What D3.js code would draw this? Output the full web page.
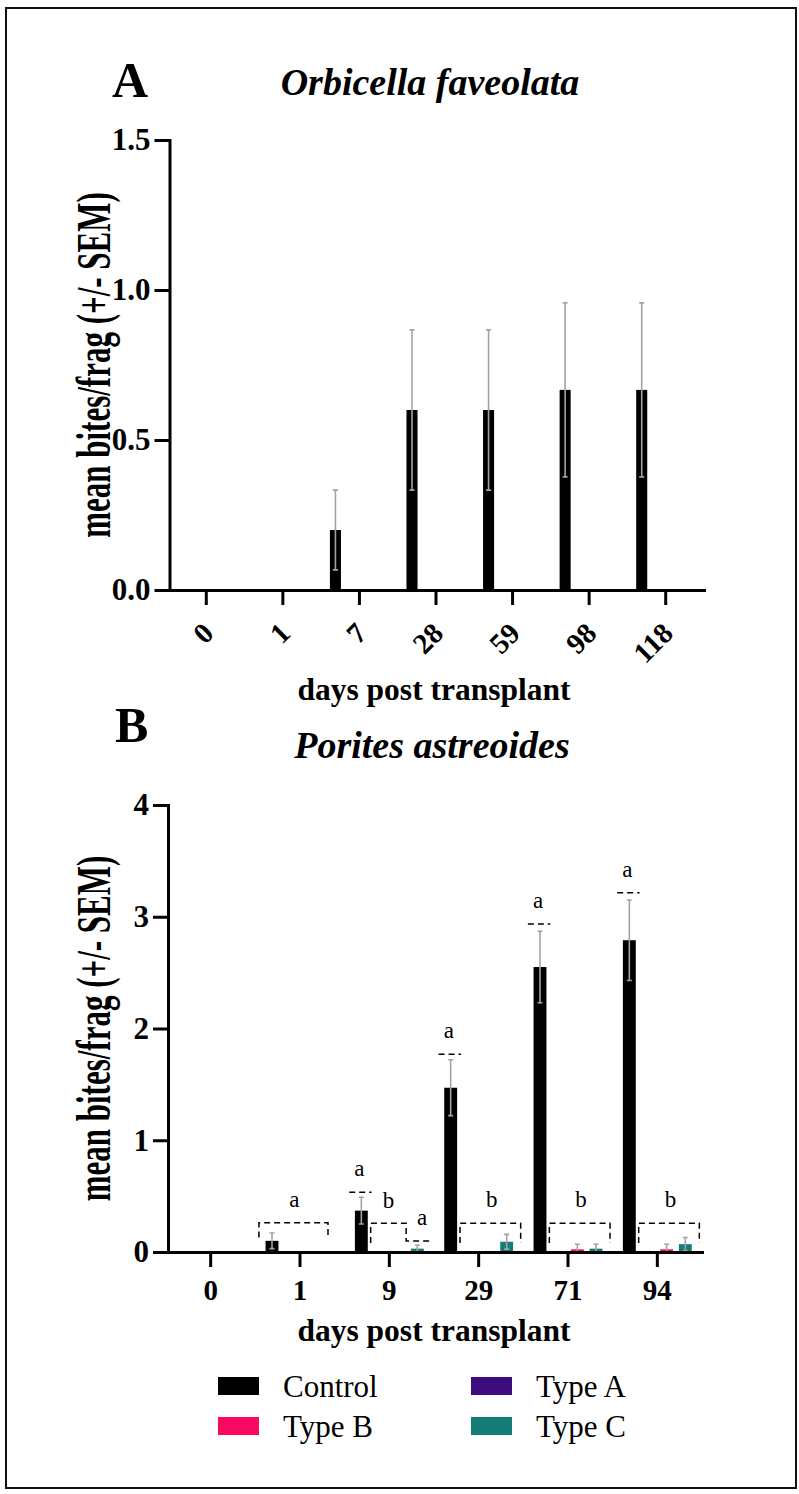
<!DOCTYPE html>
<html><head><meta charset="utf-8">
<script src="https://cdn.jsdelivr.net/npm/d3@7"></script>
<style>body{margin:0;background:#fff} svg{display:block}</style>
</head><body>
<svg id="chart" width="799" height="1494"></svg>
<script>
// ---------- data ----------
const seriesNames = ["Control", "Type A", "Type B", "Type C"];

// Panel A: Orbicella faveolata
const daysA = ["0", "1", "7", "28", "59", "98", "118"];
const controlA = [0, 0, 0.2, 0.6, 0.6, 0.667, 0.667];
const controlSemA = [0, 0, 0.133, 0.267, 0.267, 0.29, 0.29];
const typeA_A = [0, 0, 0, 0, 0, 0, 0];
const typeB_A = [0, 0, 0, 0, 0, 0, 0];
const typeC_A = [0, 0, 0, 0, 0, 0, 0];
const zeroSemA = [0, 0, 0, 0, 0, 0, 0];
const yTicksA = [0, 0.5, 1.0, 1.5];

// Panel B: Porites astreoides
const daysB = ["0", "1", "9", "29", "71", "94"];
const controlB = [0, 0.1, 0.37, 1.47, 2.55, 2.79];
const controlSemB = [0, 0.07, 0.12, 0.25, 0.32, 0.36];
const typeA_B = [0, 0, 0, 0, 0, 0];
const typeASemB = [0, 0, 0, 0, 0, 0];
const typeB_B = [0, 0, 0, 0, 0.024, 0.024];
const typeBSemB = [0, 0, 0, 0, 0.045, 0.045];
const typeC_B = [0, 0, 0.03, 0.092, 0.03, 0.07];
const typeCSemB = [0, 0, 0.03, 0.066, 0.04, 0.06];
const yTicksB = [0, 1, 2, 3, 4];

// significance letters (panel B)
const controlLettersB = [
  { day: "9", letter: "a", dash: 0.534, text: 0.68 },
  { day: "29", letter: "a", dash: 1.77, text: 1.915 },
  { day: "71", letter: "a", dash: 2.935, text: 3.08 },
  { day: "94", letter: "a", dash: 3.215, text: 3.356 }
];
const groupLettersB = [
  { day: "29", letter: "b" },
  { day: "71", letter: "b" },
  { day: "94", letter: "b" }
];

const colors = { "Control": "#000000", "Type A": "#3d0c7e", "Type B": "#f70a5f", "Type C": "#157d78" };

// ---------- drawing ----------
const FONT = "'Liberation Serif','Times New Roman',Times,serif";
const svg = d3.select("#chart");

svg.append("rect").attr("x", 6).attr("y", 8).attr("width", 790).attr("height", 1480)
  .attr("fill", "none").attr("stroke", "#111").attr("stroke-width", 2);

function drawPanel(cfg) {
  const g = svg.append("g");
  const x0 = d3.scaleBand().domain(cfg.days).range(cfg.xRange).paddingInner(0).paddingOuter(0);
  const x1 = d3.scaleBand().domain(seriesNames).range([0, x0.bandwidth()]).paddingInner(0.31).paddingOuter(0.548);
  const y = d3.scaleLinear().domain(cfg.yDomain).range(cfg.yRange);

  const rows = [];
  seriesNames.forEach((s, si) => {
    cfg.days.forEach((d, di) => {
      rows.push({ day: d, series: s, v: cfg.values[si][di], e: cfg.sems[si][di] });
    });
  });

  // bars
  g.selectAll("rect.bar").data(rows).join("rect").attr("class", "bar")
    .attr("x", d => x0(d.day) + x1(d.series))
    .attr("width", x1.bandwidth())
    .attr("y", d => y(d.v))
    .attr("height", d => y(0) - y(d.v))
    .attr("fill", d => colors[d.series]);

  // error bars
  const eb = rows.filter(d => d.e > 0);
  const cx = d => x0(d.day) + x1(d.series) + x1.bandwidth() / 2;
  const capW = 2.5;
  const ebG = g.append("g").attr("stroke", "#a3a3a3").attr("stroke-width", 1.6).attr("fill", "none");
  ebG.selectAll("path").data(eb).join("path")
    .attr("d", d => {
      const top = y(d.v + d.e), bot = y(Math.max(0, d.v - d.e)), c = cx(d);
      return `M${c},${top}V${bot}M${c - capW},${top}H${c + capW}M${c - capW},${bot}H${c + capW}`;
    });

  // y axis
  const yAxis = d3.axisLeft(y).tickValues(cfg.yTicks).tickSize(15).tickPadding(4).tickSizeOuter(0)
    .tickFormat(cfg.yFormat);
  const ya = g.append("g").attr("transform", `translate(${cfg.yAxisX},0)`).call(yAxis);
  ya.select(".domain").attr("stroke-width", 3).attr("stroke", "#000").attr("stroke-linecap", "square");
  ya.selectAll(".tick line").attr("stroke-width", 3).attr("stroke", "#000");
  ya.selectAll(".tick text").attr("font-family", FONT).attr("font-weight", "bold")
    .attr("font-size", 31).attr("fill", "#000");

  // x axis
  const xAxis = d3.axisBottom(x0).tickSize(15).tickSizeOuter(0).tickPadding(4);
  const xa = g.append("g").attr("transform", `translate(0,${y(0)})`).call(xAxis);
  xa.select(".domain").attr("stroke-width", 3).attr("stroke", "#000").attr("stroke-linecap", "square");
  xa.selectAll(".tick line").attr("stroke-width", 3).attr("stroke", "#000");
  const xt = xa.selectAll(".tick text").attr("font-family", FONT).attr("font-weight", "bold").attr("fill", "#000");
  if (cfg.rotate) {
    xt.attr("font-size", 29).attr("text-anchor", "end").attr("dy", null)
      .attr("dominant-baseline", "central")
      .attr("transform", "translate(2,38) rotate(-45)").attr("y", 0).attr("x", 0);
  } else {
    xt.attr("font-size", 29).attr("dy", "0.71em").attr("y", 27);
  }

  // axis titles
  g.append("text").attr("x", cfg.xTitlePos[0]).attr("y", cfg.xTitlePos[1])
    .attr("text-anchor", "middle").attr("font-family", FONT).attr("font-weight", "bold")
    .attr("font-size", 31.5).text("days post transplant");
  const ymid = (cfg.yRange[0] + cfg.yRange[1]) / 2;
  g.append("text").attr("transform", `translate(${cfg.yTitleX},${ymid}) rotate(-90) scale(1,1.6)`)
    .attr("text-anchor", "middle").attr("font-family", FONT).attr("font-weight", "bold")
    .attr("font-size", 31).text("mean bites/frag (+/- SEM)");

  // panel letter & title
  g.append("text").attr("x", cfg.letterPos[0]).attr("y", cfg.letterPos[1])
    .attr("font-family", FONT).attr("font-weight", "bold").attr("font-size", 50).text(cfg.letter);
  g.append("text").attr("x", cfg.titlePos[0]).attr("y", cfg.titlePos[1]).attr("text-anchor", "middle")
    .attr("font-family", FONT).attr("font-weight", "bold").attr("font-style", "italic")
    .attr("font-size", 38).text(cfg.title);

  return { g, x0, x1, y };
}

drawPanel({
  days: daysA, values: [controlA, typeA_A, typeB_A, typeC_A], sems: [controlSemA, zeroSemA, zeroSemA, zeroSemA],
  yDomain: [0, 1.5], yRange: [590, 140], xRange: [168, 704], yAxisX: 169.5, yTicks: yTicksA,
  yFormat: d3.format(".1f"), rotate: true, xTitlePos: [434, 700], yTitleX: 110,
  letter: "A", letterPos: [112, 97], title: "Orbicella faveolata", titlePos: [430, 95]
});

const pB = drawPanel({
  days: daysB, values: [controlB, typeA_B, typeB_B, typeC_B], sems: [controlSemB, typeASemB, typeBSemB, typeCSemB],
  yDomain: [0, 4], yRange: [1252, 805], xRange: [166, 702], yAxisX: 168, yTicks: yTicksB,
  yFormat: d3.format("d"), rotate: false, xTitlePos: [434, 1341], yTitleX: 110,
  letter: "B", letterPos: [115, 742], title: "Porites astreoides", titlePos: [432, 758]
});

// ---------- significance annotations (panel B) ----------
(function () {
  const { g, x0, x1, y } = pB;
  const xs = (day, s, f) => x0(day) + x1(s) + x1.bandwidth() / 2 + f * x1.step();
  const ann = g.append("g");
  const dashed = p => ann.append("path").attr("d", p).attr("fill", "none").attr("stroke", "#000")
    .attr("stroke-width", 1.5).attr("stroke-dasharray", "6,4");
  const letter = (x, yv, t) => ann.append("text").attr("x", x).attr("y", y(yv)).attr("text-anchor", "middle")
    .attr("font-family", FONT).attr("font-size", 23).text(t);

  // day 1: all "a"
  dashed(`M${xs("1", "Control", -0.7)},${y(0.13)}V${y(0.262)}H${xs("1", "Type C", 0)}V${y(0.13)}`);
  letter(xs("1", "Type A", 0.2), 0.40, "a");

  // day 9: step bracket
  dashed(`M${xs("9", "Control", 0.5)},${y(0.08)}V${y(0.257)}H${xs("9", "Type B", 0.4)}V${y(0.098)}H${xs("9", "Type C", 0.75)}`);
  letter(xs("9", "Type A", 0.45), 0.39, "b");
  letter(xs("9", "Type C", 0.25), 0.24, "a");

  // days 29/71/94: A–C bracket "b"
  groupLettersB.forEach(d => {
    dashed(`M${xs(d.day, "Control", 0.5)},${y(0.08)}V${y(0.257)}H${xs(d.day, "Type C", 0.75)}V${y(0.08)}`);
    letter(xs(d.day, "Type B", 0.2), 0.40, d.letter);
  });

  // control letters
  controlLettersB.forEach(d => {
    dashed(`M${xs(d.day, "Control", -0.65)},${y(d.dash)}H${xs(d.day, "Control", 0.55)}`);
    letter(xs(d.day, "Control", -0.1), d.text, d.letter);
  });
})();

// ---------- legend ----------
const legendItems = [
  { s: "Control", col: 0, row: 0 }, { s: "Type A", col: 1, row: 0 },
  { s: "Type B", col: 0, row: 1 }, { s: "Type C", col: 1, row: 1 }
];
const lg = svg.append("g");
const colX = [218, 471], rowY = [1377, 1417];
legendItems.forEach(it => {
  lg.append("rect").attr("x", colX[it.col]).attr("y", rowY[it.row]).attr("width", 41).attr("height", 18)
    .attr("fill", colors[it.s]);
  lg.append("text").attr("x", colX[it.col] + 65).attr("y", rowY[it.row] + 20)
    .attr("font-family", FONT).attr("font-size", 31).text(it.s);
});
</script>
</body></html>
